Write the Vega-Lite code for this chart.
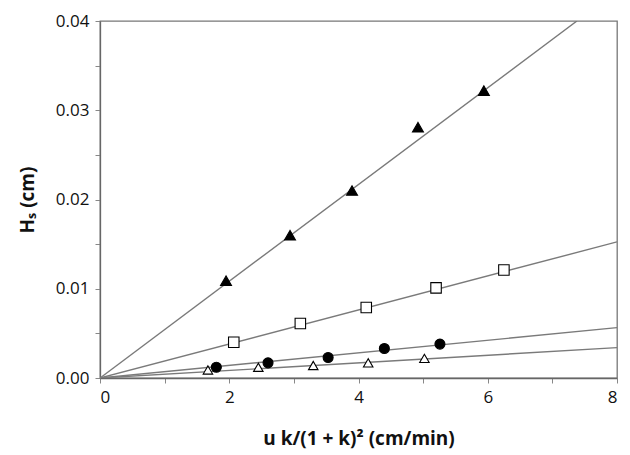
{
  "$schema": "https://vega.github.io/schema/vega-lite/v6.json",
  "width": 517,
  "height": 357,
  "autosize": {"type": "none"},
  "padding": {"left": 100, "top": 21, "right": 13, "bottom": 77},
  "background": "white",
  "config": {
    "view": {"stroke": "#777777", "strokeWidth": 1.3},
    "font": "Open Sans",
    "axis": {
      "grid": false,
      "domainColor": "#666666",
      "domainWidth": 1.3,
      "tickColor": "#888888",
      "tickSize": 5,
      "labelFont": "Open Sans",
      "labelFontSize": 17,
      "labelColor": "#111111",
      "titleFont": "Open Sans",
      "titleColor": "#111111"
    }
  },
  "datasets": {
    "fits": [
      {"series": "A", "x": 0, "y": 0},
      {"series": "A", "x": 7.38, "y": 0.04},
      {"series": "B", "x": 0, "y": 0},
      {"series": "B", "x": 8, "y": 0.01525},
      {"series": "C", "x": 0, "y": 0},
      {"series": "C", "x": 8, "y": 0.00564},
      {"series": "D", "x": 0, "y": 0},
      {"series": "D", "x": 8, "y": 0.0034}
    ],
    "pts": [
      {"series": "A", "x": 1.95, "y": 0.0109},
      {"series": "A", "x": 2.94, "y": 0.016},
      {"series": "A", "x": 3.9, "y": 0.021},
      {"series": "A", "x": 4.92, "y": 0.0281},
      {"series": "A", "x": 5.94, "y": 0.0322},
      {"series": "B", "x": 2.07, "y": 0.004},
      {"series": "B", "x": 3.1, "y": 0.0061},
      {"series": "B", "x": 4.12, "y": 0.0079},
      {"series": "B", "x": 5.2, "y": 0.0101},
      {"series": "B", "x": 6.25, "y": 0.0121},
      {"series": "C", "x": 1.8, "y": 0.0012},
      {"series": "C", "x": 2.6, "y": 0.0017},
      {"series": "C", "x": 3.53, "y": 0.0023},
      {"series": "C", "x": 4.4, "y": 0.0033},
      {"series": "C", "x": 5.26, "y": 0.0038},
      {"series": "D", "x": 1.67, "y": 0.0009},
      {"series": "D", "x": 2.45, "y": 0.0012},
      {"series": "D", "x": 3.3, "y": 0.0014},
      {"series": "D", "x": 4.15, "y": 0.0017},
      {"series": "D", "x": 5.02, "y": 0.0022}
    ]
  },
  "encoding": {
    "x": {
      "field": "x",
      "type": "quantitative",
      "scale": {"domain": [0, 8], "nice": false, "zero": false},
      "axis": {
        "values": [0, 1, 2, 3, 4, 5, 6, 7, 8],
        "labelExpr": "datum.value % 2 == 0 ? datum.label : ''",
        "labelPadding": 6,
        "title": "u k/(1 + k)² (cm/min)",
        "titleFontSize": 19,
        "titleFontWeight": "bold",
        "titlePadding": 24
      }
    },
    "y": {
      "field": "y",
      "type": "quantitative",
      "scale": {"domain": [0, 0.04], "nice": false, "zero": false},
      "axis": {
        "values": [0, 0.005, 0.01, 0.015, 0.02, 0.025, 0.03, 0.035, 0.04],
        "labelExpr": "round(datum.value * 1000) % 10 == 0 ? format(datum.value, '.2f') : ''",
        "labelPadding": 6,
        "title": "Hₛ (cm)",
        "titleFontSize": 19,
        "titleFontWeight": "bold",
        "titlePadding": 18
      }
    }
  },
  "layer": [
    {
      "data": {"name": "fits"},
      "mark": {"type": "line", "color": "#7a7a7a", "strokeWidth": 1.4, "clip": true},
      "encoding": {"detail": {"field": "series"}}
    },
    {
      "data": {"name": "pts"},
      "mark": {"type": "point", "filled": false, "stroke": "black", "strokeWidth": 1.1, "opacity": 1},
      "encoding": {
        "shape": {
          "field": "series",
          "scale": {"domain": ["A", "B", "C", "D"], "range": ["triangle-up", "square", "circle", "triangle-up"]},
          "legend": null
        },
        "fill": {
          "field": "series",
          "scale": {"domain": ["A", "B", "C", "D"], "range": ["black", "white", "black", "white"]},
          "legend": null
        },
        "size": {
          "field": "series",
          "scale": {"domain": ["A", "B", "C", "D"], "range": [120, 90, 110, 110]},
          "legend": null
        }
      }
    }
  ]
}
